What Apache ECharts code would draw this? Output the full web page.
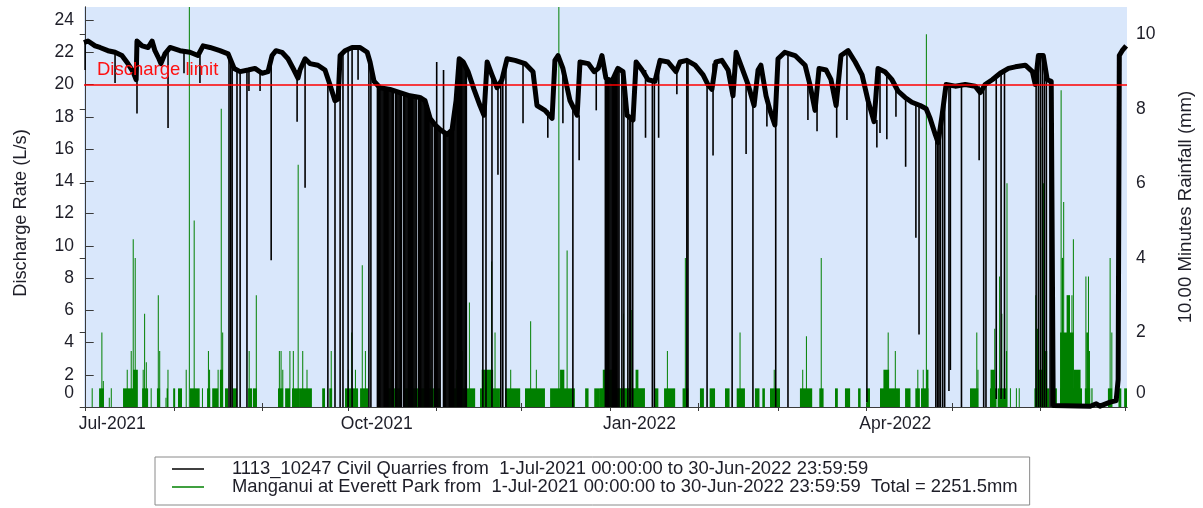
<!DOCTYPE html>
<html><head><meta charset="utf-8">
<script src="https://cdn.jsdelivr.net/npm/echarts@6/dist/echarts.min.js"></script>
<style>html,body{margin:0;padding:0;background:#fff}#c{width:1203px;height:508px}</style>
</head><body><div id="c"></div>
<script>
// ---- axis / label data (days counted from 1-Jul-2021 00:00) ----
const monthTickDays = [0, 31, 62, 92, 123, 153, 184, 215, 243, 274, 304, 335, 365];
const monthLabelDays = [0, 92, 184, 274];
const monthLabels = ['Jul-2021', 'Oct-2021', 'Jan-2022', 'Apr-2022'];
const dischargeTickValues = [0, 2, 4, 6, 8, 10, 12, 14, 16, 18, 20, 22, 24];
const rainTickValues = [0, 2, 4, 6, 8, 10];
const dischargeLimit = 20;
const dischargeName = '1113_10247 Civil Quarries from  1-Jul-2021 00:00:00 to 30-Jun-2022 23:59:59';
const rainName = 'Manganui at Everett Park from  1-Jul-2021 00:00:00 to 30-Jun-2022 23:59:59  Total = 2251.5mm';

// discharge (L/s): [day, value] — upper trace of the record
const discharge = [[-0.6,22.6],[0.8,22.7],[3.3,22.4],[5.0,22.3],[7.8,22.1],[10.3,22.0],[12.7,21.8],[14.8,21.3],[16.6,20.8],[17.7,20.3],[18.0,22.7],[19.8,22.4],[21.9,22.3],[23.3,22.7],[24.3,22.1],[25.7,21.6],[26.4,21.3],[27.8,21.9],[29.6,22.3],[33.1,22.1],[36.6,22.0],[39.4,21.8],[41.2,22.4],[43.6,22.3],[47.1,22.1],[50.0,21.9],[52.1,21.0],[54.2,20.8],[57.0,20.9],[59.4,21.0],[61.9,20.7],[64.0,20.8],[65.4,21.8],[66.8,22.1],[68.9,22.0],[71.0,21.6],[73.1,20.9],[74.5,20.4],[75.2,20.9],[77.0,21.6],[78.7,21.3],[81.5,21.2],[84.0,20.9],[85.7,20.0],[87.5,19.0],[88.6,19.1],[89.3,21.8],[91.0,22.1],[93.5,22.3],[96.3,22.3],[98.8,22.0],[99.8,21.4],[101.2,20.2],[103.3,19.8],[106.8,19.7],[110.3,19.5],[113.8,19.3],[117.3,19.2],[119.1,19.0],[120.9,17.9],[122.6,17.5],[124.4,17.2],[126.9,16.9],[128.6,17.2],[130.0,19.0],[131.1,21.6],[132.5,21.4],[134.2,20.8],[136.3,19.7],[138.4,18.7],[139.8,18.1],[140.9,21.4],[142.6,20.6],[144.4,19.8],[146.1,20.3],[147.9,21.6],[150.7,21.5],[154.2,21.3],[157.0,20.8],[158.4,18.7],[161.2,18.4],[163.7,17.9],[164.7,21.5],[165.8,21.8],[167.5,21.0],[170.0,19.0],[172.5,18.1],[173.5,21.4],[176.4,21.3],[178.5,20.8],[179.9,21.0],[181.2,21.8],[182.6,20.4],[184.7,20.2],[186.8,21.0],[188.6,20.8],[190.0,18.1],[192.1,17.8],[193.2,21.4],[195.3,20.9],[197.4,20.3],[199.8,20.2],[201.6,21.5],[204.4,21.4],[207.2,20.8],[208.6,21.4],[211.0,21.5],[213.9,21.2],[216.7,20.6],[218.4,20.0],[219.8,19.7],[221.2,21.4],[223.3,21.5],[225.5,20.9],[227.2,19.3],[228.3,22.0],[230.4,21.0],[232.5,20.0],[234.6,18.7],[236.0,20.9],[237.0,21.2],[238.8,19.3],[240.2,18.4],[241.9,17.5],[243.0,21.6],[245.4,22.0],[249.0,21.8],[252.5,21.2],[254.2,20.0],[256.0,18.4],[257.4,21.0],[259.9,20.9],[261.6,20.3],[263.4,18.7],[265.1,21.8],[267.6,22.1],[270.1,21.4],[272.5,20.6],[274.6,19.0],[276.7,17.7],[278.1,21.0],[280.5,20.8],[283.0,20.3],[285.1,19.6],[287.6,19.2],[290.0,18.9],[292.9,18.7],[295.0,18.5],[296.4,17.9],[298.2,16.9],[299.2,16.4],[300.6,18.1],[302.0,20.0],[305.2,19.9],[308.7,20.0],[312.2,19.9],[314.0,19.5],[315.7,20.0],[318.2,20.3],[321.0,20.7],[323.9,21.0],[326.3,21.1],[329.8,21.2],[332.3,20.8],[333.3,20.0],[334.4,21.8],[336.1,21.8],[337.5,20.3],[338.9,20.2],[339.6,0.1],[352.6,0.05],[354.7,0.2],[356.0,0.05],[359.6,0.3],[361.7,0.4],[362.4,1.7],[362.8,21.8],[363.8,22.1],[365.2,22.4]];

// short dips in discharge: [day, lowest value, value before dip]
const dischargeDips = [[-0.2,20.9,22.6],[10.3,20.1,22.0],[18.0,18.2,22.6],[28.9,17.3,22.0],[34.5,20.7,22.1],[40.1,20.1,21.8],[50.3,0,21.9],[50.9,0,21.5],[51.4,0,21.2],[53.1,0,20.9],[54.2,0,20.8],[56.6,0,20.9],[57.3,19.6,20.9],[61.2,19.6,20.8],[65.1,9.1,21.8],[74.2,17.7,20.9],[77.0,13.6,21.6],
[85.0,0,20.5],[87.5,0,19.0],[89.3,0,21.8],[90.3,0,22.0],[92.1,0,22.2],[93.5,0,22.3],[95.6,20.3,22.3],[99.4,0,21.8],[100.1,0,21.3],
[102.4,0,20.1],[102.8,0,20.0],[103.2,0,19.8],[103.6,0,19.8],[104.0,0,19.8],[104.4,0,19.8],[104.8,0,19.8],[105.2,0,19.7],[105.6,0,19.7],[106.0,0,19.7],[106.4,0,19.7],[106.8,0,19.7],[107.2,0,19.7],[107.6,0,19.7],[108.0,0,19.6],[108.8,0,19.6],[109.2,0,19.6],[109.6,0,19.6],[110.0,0,19.5],[110.4,0,19.5],[110.8,0,19.5],[111.6,0,19.4],[112.0,0,19.4],[112.4,0,19.4],[112.8,0,19.4],[113.2,0,19.3],[113.6,0,19.3],[114.0,0,19.3],[114.4,0,19.3],[114.8,0,19.3],[115.2,0,19.3],[115.6,0,19.3],[116.0,0,19.2],[116.8,0,19.2],[117.2,0,19.2],[117.6,0,19.2],[118.0,0,19.1],[118.4,0,19.1],[118.8,0,19.1],[119.2,0,19.0],[119.6,0,18.8],[120.0,0,18.5],[120.4,0,18.2],[120.8,0,18.0],[121.2,0,17.8],[121.6,0,17.7],[122.4,0,17.5],[122.8,0,17.5],[123.2,0,21.4],[123.6,0,17.3],[124.0,0,17.3],[124.4,0,17.2],[125.6,0,20.9],[126.0,0,17.0],[126.4,0,16.9],[126.8,0,16.9],[127.2,0,17.0],[127.6,0,17.0],[128.0,0,17.0],[128.4,0,17.1],[128.8,0,17.2],[129.2,0,17.5],[129.6,0,18.3],[130.0,0,19.0],[130.4,0,20.3],[130.8,0,21.2],[131.2,0,21.6],[131.6,0,21.5],[132.0,0,21.4],[132.4,0,21.4],[132.8,0,21.2],[133.2,0,21.1],[133.6,0,20.8],
[139.4,0,18.2],[140.5,0,21.4],[142.6,0,20.6],[144.7,14.4,19.8],[145.7,0,20.0],[146.4,0,20.3],[147.5,0,21.3],[153.5,17.6,21.3],[162.2,16.7,18.4],[167.5,17.6,21.0],[171.0,0,18.8],[173.2,15.3,18.1],[179.2,18.4,21.0],
[182.4,0,20.5],[182.8,0,20.4],[183.2,0,20.4],[183.6,0,20.3],[184.0,0,20.3],[184.4,0,20.2],[184.8,0,20.2],[185.2,0,20.3],[185.6,0,20.5],[186.0,0,20.7],[186.4,0,20.9],[186.8,0,21.0],[187.2,0,21.0],[188.2,0,20.9],[188.9,0,20.6],[190.3,0,18.1],[191.0,0,18.0],[191.3,0,17.9],[192.0,0,17.8],
[196.5,16.7,20.9],[198.9,0,20.2],[199.6,0,20.2],[201.1,16.7,21.5],[207.5,19.4,21.0],[211.0,0,21.5],[211.4,0,21.4],[218.1,0,20.2],[220.2,15.6,21.3],[226.9,0,19.5],[231.8,15.7,20.4],[234.2,0,18.8],[239.1,17.4,19.2],[242.2,0,17.6],[246.5,0,22.0],[253.5,17.8,20.8],[256.7,17.1,18.7],[263.6,16.7,18.7],[267.2,17.8,22.0],[274.2,0.3,19.2],[277.7,16.1,17.8],[278.8,17.0,21.0],[281.2,16.6,20.5],[284.4,18.0,19.8],
[287.8,14.9,19.2],[291.4,10.5,18.8],[292.5,4.5,18.7],[298.4,0,17.0],[299.0,0,16.5],[299.5,0,16.8],[300.0,0,17.5],[300.8,0,18.5],[301.5,0,19.5],[303.0,1.0,20.0],[303.5,2.3,19.9],[307.4,0,20.0],[313.6,15.3,19.9],[315.2,0,19.8],[316.0,0,20.0],[319.6,0.5,20.5],[321.3,0.5,20.7],[322.5,0.5,20.9],[333.6,0,21.0],[334.4,0,21.8],[335.1,0,21.8],[335.8,0,21.8],[336.5,0,21.5],[337.2,0,20.5],[338.5,0,20.2]];

// 10-minute rainfall (mm): [start day, end day, mm]
const rainfall = [[2.1,2.4,0.5],[4.7,6.4,0.5],[5.5,5.8,2.0],[6.0,6.3,0.7],[8.1,8.4,0.25],[8.8,9.1,0.5],
[13.1,18.0,0.5],[14.4,14.7,1.0],[15.8,16.1,1.5],[16.6,18.3,1.0],[16.5,16.8,4.5],[17.2,17.5,4.0],
[19.8,21.9,0.5],[20.0,20.3,1.0],[20.5,20.8,2.5],[21.1,21.4,1.2],[22.8,23.1,0.5],
[25.0,26.1,0.5],[25.3,25.6,3.0],[25.8,26.1,1.5],[28.0,28.3,0.25],[28.4,28.9,0.5],[28.7,29.0,1.0],
[30.7,31.4,0.5],[32.4,33.8,0.5],[35.1,35.4,1.0],[36.2,36.5,11.5],[36.6,40.0,0.5],[37.9,38.2,5.0],
[40.8,41.1,0.5],[42.6,43.7,0.5],[42.9,43.2,1.5],[43.3,43.6,1.0],[44.4,46.5,0.5],[46.3,46.6,1.0],
[47.1,48.2,1.0],[47.4,47.7,8.0],[47.9,48.2,2.0],[48.9,50.0,0.5],[51.7,53.1,0.5],
[57.0,58.4,0.5],[57.2,57.5,1.5],[58.7,60.1,0.5],[59.7,60.0,3.0],
[67.5,69.3,0.5],[67.8,68.1,1.5],[68.4,68.7,1.5],[69.0,69.3,1.0],[70.0,71.7,0.5],[71.5,71.8,1.5],
[72.4,75.2,0.5],[72.7,73.0,1.5],[74.4,74.7,6.5],
[75.2,79.4,0.5],[76.0,76.3,1.5],[77.5,77.8,1.0],[83.0,84.0,0.5],[85.5,86.5,0.5],[86.0,86.3,1.5],
[91.0,95.6,0.5],[92.0,92.3,1.0],[93.2,93.5,2.0],[94.5,94.8,1.0],[96.3,99.1,0.5],[96.9,97.2,3.8],[98.0,98.3,1.5],
[105.1,110.3,0.5],[107.0,107.3,1.0],[109.0,109.3,1.5],[112.1,117.3,0.5],[114.0,114.3,1.8],
[117.3,124.4,0.5],[119.0,119.3,2.6],[121.0,121.3,1.0],[123.0,123.3,1.5],
[127.9,136.7,0.5],[130.0,130.3,1.0],[130.6,130.9,4.7],[132.0,132.3,1.5],[134.5,134.8,2.8],
[138.4,145.4,0.5],[139.0,143.0,1.0],[142.3,142.6,3.9],[143.5,143.8,2.0],[147.2,152.5,0.5],[149.0,149.3,1.0],
[154.2,161.2,0.5],[156.0,156.3,2.3],[158.0,158.3,1.0],
[163.0,171.7,0.5],[165.9,166.2,11.5],[166.5,168.0,1.0],[168.8,169.1,4.2],
[175.3,176.5,0.5],[178.5,180.5,0.5],
[180.5,196.3,0.5],[181.5,186.0,1.0],[182.7,183.0,3.3],[188.6,188.9,2.5],[191.5,191.8,2.6],[193.0,194.0,1.0],
[199.8,201.0,0.5],[203.0,206.9,0.5],[204.0,204.3,1.5],[209.5,211.5,0.5],[210.3,210.6,4.0],
[215.6,217.0,0.5],[219.0,220.9,0.5],[224.4,226.0,0.5],[228.5,231.4,0.5],[229.5,229.8,2.0],
[234.9,236.5,0.5],[237.5,238.4,0.5],[240.2,243.7,0.5],[241.5,241.8,1.0],
[250.7,255.0,0.5],[251.5,251.8,1.0],[252.8,253.1,1.9],[257.5,259.0,0.5],[258.0,258.3,4.0],
[263.0,264.0,0.5],[266.5,268.3,0.5],[271.1,272.0,0.5],[274.0,275.3,0.5],
[278.8,285.8,0.5],[280.0,282.0,1.0],[281.5,281.8,2.0],[284.0,284.3,1.5],
[287.6,289.5,0.5],[291.2,292.8,0.5],[291.9,292.2,1.0],[293.2,295.8,0.5],[293.8,294.1,1.0],[295.0,295.8,1.0],[294.9,295.2,10.0],
[310.4,313.3,0.5],[312.6,312.9,2.0],[313.0,313.3,1.0],
[317.4,319.7,0.5],[317.6,319.2,1.0],[318.9,319.2,2.1],[320.1,323.4,0.5],[320.6,320.9,3.5],[321.4,321.7,2.5],[323.0,323.4,1.5],[323.2,323.5,6.0],
[324.4,324.7,0.5],[326.5,326.8,0.5],[327.5,327.8,0.5],
[333.0,338.2,0.5],[334.0,336.5,1.0],[333.3,333.6,3.0],[333.9,334.2,2.1],[335.6,335.9,7.5],[336.0,336.3,6.0],[336.5,337.5,1.5],
[340.2,340.9,0.5],
[342.0,349.7,0.5],[342.0,346.8,2.0],[342.2,342.5,8.5],[342.6,343.1,4.0],[343.1,343.4,5.5],[344.3,345.5,3.0],[346.0,346.3,3.0],[346.5,346.8,4.5],[346.8,349.2,1.0],
[350.7,352.6,0.5],[350.9,351.2,3.5],[351.2,351.8,2.0],[351.8,352.1,3.5],[352.1,352.5,1.5],[353.0,353.4,0.5],
[358.8,360.3,0.5],[359.4,359.7,4.0],[360.0,360.3,2.0],[362.5,363.5,0.5],[364.5,365.5,0.5]];

// ---- chart ----
const FONT = "'Liberation Sans', Arial, sans-serif";
const TXT = '#1e1e28';
const AX = '#3a3a3a';
const GREEN = '#008000';
const X_MIN = -0.6, X_MAX = 365.5;
const Y_MAX = 24.81, R_MAX = 10.73;
const ZERO_LABEL_LIFT_L = 0.85, ZERO_LABEL_LIFT_R = 0.37; // the "0" labels sit a little above the frame

const chart = echarts.init(document.getElementById('c'), null, {renderer: 'canvas'});
chart.setOption({
  animation: false,
  backgroundColor: '#ffffff',
  textStyle: {fontFamily: FONT},
  grid: {left: 84, right: 76, top: 7, bottom: 101, show: true, backgroundColor: '#d9e7fb', borderWidth: 0},
  legend: {
    orient: 'vertical', left: 155, top: 457, selectedMode: false,
    padding: [3, 12, 9, 17], itemGap: 0, itemWidth: 32, itemHeight: 1.5,
    borderColor: '#8a8a8a', borderWidth: 1,
    data: [{name: dischargeName, icon: 'rect', itemStyle: {color: '#000'}},
           {name: rainName, icon: 'rect', itemStyle: {color: GREEN}}],
    formatter: n => '{t|' + n + '}',
    textStyle: {fontFamily: FONT, fontSize: 18.4, color: TXT, lineHeight: 18,
      rich: {t: {fontFamily: FONT, fontSize: 18.4, color: TXT, lineHeight: 18, padding: [0, 0, 0, 23]}}}
  },
  xAxis: [{
    type: 'value', min: X_MIN, max: X_MAX, position: 'bottom',
    axisLine: {show: true, lineStyle: {color: GREEN, width: 1}},
    axisTick: {show: true, inside: true, length: 4, customValues: monthTickDays, lineStyle: {color: AX}},
    axisLabel: {customValues: monthLabelDays, formatter: v => monthLabels[monthLabelDays.indexOf(v)] || '',
      align: 'left', padding: [0, 0, 0, -7], margin: 8, fontSize: 17.5, color: TXT, fontFamily: FONT},
    splitLine: {show: false}
  }, {
    type: 'value', min: X_MIN, max: X_MAX, position: 'top',
    axisLine: {show: true, lineStyle: {color: AX, width: 1}},
    axisTick: {show: true, inside: true, length: 4, customValues: monthTickDays, lineStyle: {color: AX}},
    axisLabel: {show: false}, splitLine: {show: false}
  }],
  yAxis: [{
    type: 'value', min: 0, max: Y_MAX, position: 'left',
    name: 'Discharge Rate (L/s)', nameLocation: 'middle', nameRotate: 90, nameGap: 54,
    nameTextStyle: {fontSize: 18.3, color: TXT, fontFamily: FONT, padding: [0, 12, 0, 0]},
    axisLine: {show: true, lineStyle: {color: AX, width: 1}},
    axisTick: {show: true, inside: true, length: 8, customValues: dischargeTickValues, lineStyle: {color: AX}},
    axisLabel: {customValues: dischargeTickValues.map(v => v === 0 ? ZERO_LABEL_LIFT_L : v),
      formatter: v => v < 1 ? '0' : String(v), margin: 10, fontSize: 17.5, color: TXT, fontFamily: FONT},
    splitLine: {show: false}
  }, {
    type: 'value', min: 0, max: R_MAX, position: 'right',
    name: '10.00 Minutes Rainfall (mm)', nameLocation: 'middle', nameRotate: 90, nameGap: 49,
    nameTextStyle: {fontSize: 18.6, color: TXT, fontFamily: FONT},
    axisLine: {show: true, lineStyle: {color: AX, width: 1}},
    axisTick: {show: true, inside: true, length: 6, customValues: rainTickValues, lineStyle: {color: AX}},
    axisLabel: {customValues: rainTickValues.map(v => v === 0 ? ZERO_LABEL_LIFT_R : v),
      formatter: v => v < 1 ? '0' : String(v), margin: 9, fontSize: 17.5, color: TXT, fontFamily: FONT},
    splitLine: {show: false}
  }],
  series: [{
    name: rainName, type: 'custom', xAxisIndex: 0, yAxisIndex: 1, z: 2, clip: true,
    color: GREEN, itemStyle: {color: GREEN},
    encode: {x: [0, 1], y: 2},
    data: rainfall,
    renderItem: (params, api) => {
      const p0 = api.coord([api.value(0), api.value(2)]);
      const p1 = api.coord([api.value(1), 0]);
      return {type: 'rect', shape: {x: p0[0], y: p0[1], width: Math.max(1, p1[0] - p0[0]), height: p1[1] - p0[1]},
        style: {fill: GREEN}};
    }
  }, {
    name: dischargeName, type: 'line', xAxisIndex: 0, yAxisIndex: 0, z: 3,
    color: '#000', showSymbol: false, symbol: 'none',
    lineStyle: {color: '#000', width: 5, join: 'round'},
    data: discharge
  }, {
    name: 'dips', type: 'custom', xAxisIndex: 0, yAxisIndex: 0, z: 3, clip: true,
    encode: {x: 0, y: [1, 2]},
    data: dischargeDips,
    renderItem: (params, api) => {
      const a = api.coord([api.value(0), api.value(2)]);
      const b = api.coord([api.value(0), api.value(1)]);
      return {type: 'line', shape: {x1: a[0], y1: a[1], x2: b[0], y2: b[1]}, style: {stroke: '#000', lineWidth: 1.6}};
    }
  }, {
    name: 'limit', type: 'line', xAxisIndex: 0, yAxisIndex: 0, z: 10, data: [],
    markLine: {
      silent: true, symbol: 'none', animation: false,
      lineStyle: {color: '#ff0000', width: 1.5, type: 'solid'},
      label: {show: true, formatter: 'Discharge limit', position: 'insideStartTop', distance: [13, 5],
        color: '#ff1010', fontSize: 18.5, fontFamily: FONT},
      data: [{yAxis: dischargeLimit}]
    }
  }]
});
</script></body></html>
